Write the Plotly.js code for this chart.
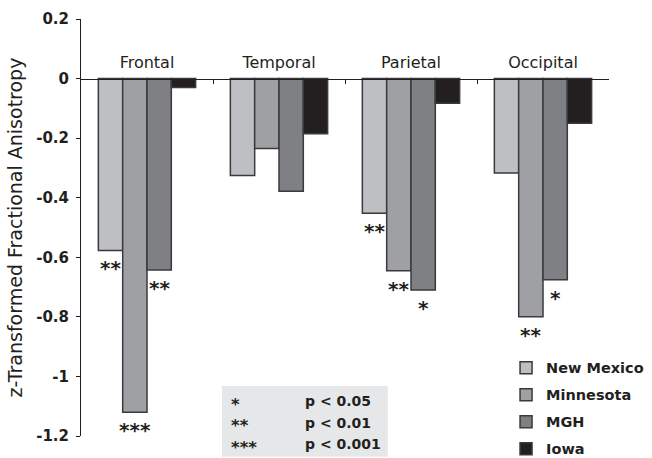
<!DOCTYPE html>
<html>
<head>
<meta charset="utf-8">
<script src="https://cdn.plot.ly/plotly-3.0.1.min.js"></script>
<style>html,body{margin:0;padding:0;background:#fff;}#chart{width:652px;height:458px;}</style>
</head>
<body>
<div id="chart"></div>
<script>
// ---- data ----
var regions = ['Frontal', 'Temporal', 'Parietal', 'Occipital'];
var seriesNames = ['New Mexico', 'Minnesota', 'MGH', 'Iowa'];
var newMexico = [-0.577, -0.325, -0.452, -0.317];
var minnesota = [-1.120, -0.235, -0.645, -0.800];
var mgh       = [-0.643, -0.378, -0.710, -0.675];
var iowa      = [-0.030, -0.185, -0.083, -0.150];
var starsNewMexico = ['**', '', '**', ''];
var starsMinnesota = ['***', '', '**', '**'];
var starsMGH       = ['**', '', '*', '*'];
var starsIowa      = ['', '', '', ''];
var yTickVals  = [0.2, 0, -0.2, -0.4, -0.6, -0.8, -1, -1.2];
var yTickText  = ['0.2', '0', '-0.2', '-0.4', '-0.6', '-0.8', '-1', '-1.2'];
var sigSymbols = ['*', '**', '***'];
var sigTexts   = ['p < 0.05', 'p < 0.01', 'p < 0.001'];

// ---- styles ----
var values = [newMexico, minnesota, mgh, iowa];
var stars = [starsNewMexico, starsMinnesota, starsMGH, starsIowa];
var colors = ['#bebfc3', '#9fa0a4', '#7f8084', '#231f20'];
var ink = '#231f20';
var font = 'DejaVu Sans, Arial, sans-serif';
var barGap = 0.263;
var plotW = 528;
var barPx = plotW / regions.length * (1 - barGap) / seriesNames.length;

var traces = values.map(function (v, i) {
  return {
    type: 'bar',
    name: seriesNames[i],
    x: regions,
    y: v,
    legendgroup: 'g' + i,
    marker: {color: colors[i], line: {color: '#3a3a3c', width: 1.5}},
    hoverinfo: 'none'
  };
});

var annotations = [];
stars.forEach(function (arr, s) {
  arr.forEach(function (t, c) {
    if (!t) return;
    annotations.push({
      x: regions[c], y: values[s][c], xref: 'x', yref: 'y',
      text: t, showarrow: false,
      xshift: (s - 1.5) * barPx,
      yanchor: 'middle', yshift: -18,
      font: {family: font, size: 20, weight: 'bold', color: ink}
    });
  });
});

// significance key: symbols as one multi-line block, p-values as rows
annotations.push({
  x: 0.280, y: 0.0839, xref: 'paper', yref: 'paper', xanchor: 'left', yanchor: 'top',
  yshift: 8, align: 'left',
  text: sigSymbols.join('<br>'), showarrow: false,
  font: {family: font, size: 16.5, weight: 'bold', color: ink}
});
var rowY = [0.0839, 0.0312, -0.0192];
sigTexts.forEach(function (t, i) {
  annotations.push({
    x: 0.420, y: rowY[i], xref: 'paper', yref: 'paper', xanchor: 'left', yanchor: 'middle',
    text: t, showarrow: false,
    font: {family: font, size: 14, weight: 'bold', color: ink}
  });
});

var layout = {
  width: 652, height: 458,
  margin: {l: 81, r: 43, t: 19, b: 22, autoexpand: false},
  paper_bgcolor: '#ffffff', plot_bgcolor: 'rgba(0,0,0,0)',
  barmode: 'group', bargap: barGap, bargroupgap: 0,
  showlegend: true,
  legend: {
    x: 0.805, y: 0.202, xanchor: 'left', yanchor: 'top',
    traceorder: 'grouped', tracegroupgap: 5.2,
    bgcolor: 'rgba(0,0,0,0)', borderwidth: 0,
    font: {family: font, size: 14.5, weight: 'bold', color: ink}
  },
  xaxis: {
    type: 'category', automargin: false,
    anchor: 'free', position: 0.857, side: 'top',
    showline: true, linecolor: ink, linewidth: 1,
    ticks: 'inside', ticklen: 4, tickcolor: ink, tickson: 'boundaries',
    showgrid: false, zeroline: false, fixedrange: true,
    tickfont: {family: font, size: 16, color: ink},
    ticklabelstandoff: 4
  },
  yaxis: {
    range: [-1.2, 0.2], automargin: false,
    tickvals: yTickVals, ticktext: yTickText,
    showline: true, linecolor: ink, linewidth: 1,
    ticks: 'outside', ticklen: 4, tickcolor: ink,
    showgrid: false, zeroline: false, fixedrange: true,
    tickfont: {family: font, size: 15, weight: 'bold', color: ink},
    ticklabelstandoff: 4,
    title: {text: 'z-Transformed Fractional Anisotropy', standoff: 8,
            font: {family: font, size: 19, color: ink}}
  },
  shapes: [{
    type: 'rect', xref: 'paper', yref: 'paper',
    x0: 0.267, x1: 0.581, y0: -0.050, y1: 0.120,
    fillcolor: '#e6e7e8', line: {width: 0}, layer: 'below'
  }],
  annotations: annotations
};

Plotly.newPlot('chart', traces, layout, {displayModeBar: false, staticPlot: true});
</script>
</body>
</html>
